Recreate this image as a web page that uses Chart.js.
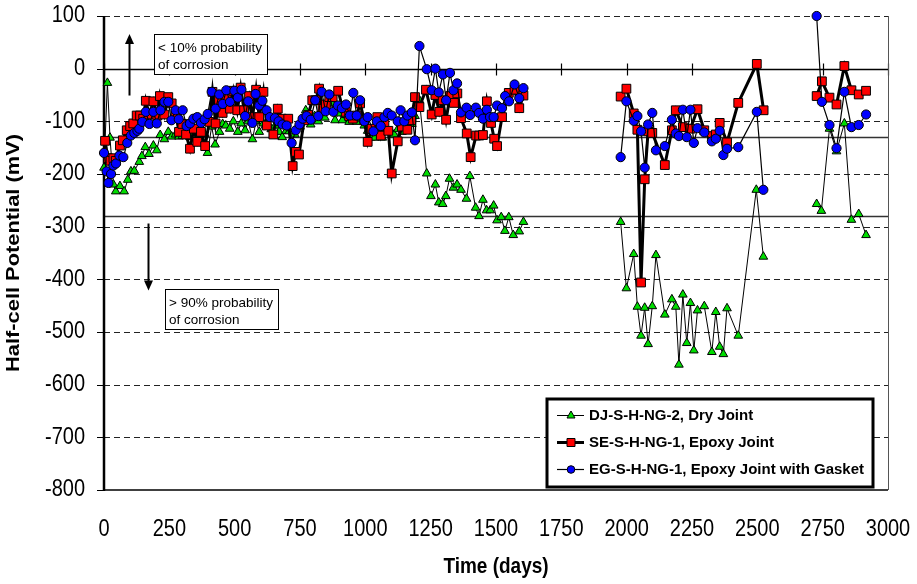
<!DOCTYPE html>
<html><head><meta charset="utf-8">
<script src="https://cdn.jsdelivr.net/npm/chart.js@4/dist/chart.umd.min.js"></script>
<style>html,body{margin:0;padding:0;background:#fff}canvas{display:block}</style>
</head><body>
<canvas id="c" width="917" height="584"></canvas>
<script>
const xTicks = [0,250,500,750,1000,1250,1500,1750,2000,2250,2500,2750,3000];
const yTicks = [100,0,-100,-200,-300,-400,-500,-600,-700,-800];
const thresholds = [-130,-280];
const seriesNames = ['DJ-S-H-NG-2, Dry Joint','SE-S-H-NG-1, Epoxy Joint','EG-S-H-NG-1, Epoxy Joint with Gasket'];
const xTitle = 'Time (days)';
const yTitle = 'Half-cell Potential (mV)';
const noteTop = ['< 10% probability','of corrosion'];
const noteBottom = ['> 90% probability','of corrosion'];

const dryDays = [0,13,23,36,45,61,77,91,103,116,135,145,158,172,189,202,215,231,246,259,274,287,300,314,329,344,357,371,385,396,412,425,442,454,466,481,495,512,525,540,552,568,582,594,610,625,640,655,670,682,697,709,730,750,772,791,806,820,835,845,858,871,884,898,912,925,938,952,967,982,996,1009,1022,1035,1050,1065,1080,1095,1110,1124,1140,1161,1178,1190,1207,1235,1251,1268,1281,1296,1308,1322,1337,1351,1366,1387,1400,1422,1435,1450,1464,1478,1491,1504,1520,1534,1549,1566,1589,1605,1800,1977,1999,2027,2041,2055,2069,2082,2098,2112,2146,2173,2188,2200,2215,2230,2244,2257,2271,2297,2326,2341,2356,2370,2384,2427,2496,2523,2620,2727,2745,2776,2803,2833,2860,2888,2916];
const dryMv = [-188,-27,-131,-220,-233,-223,-233,-211,-195,-194,-177,-166,-149,-162,-146,-155,-126,-134,-120,-129,-125,-129,-128,-126,-130,-122,-128,-118,-124,-160,-110,-144,-120,-105,-108,-114,-100,-120,-104,-117,-100,-134,-100,-120,-104,-110,-115,-108,-120,-130,-118,-119,-125,-110,-79,-106,-90,-100,-88,-93,-80,-66,-98,-85,-98,-88,-101,-92,-101,-95,-108,-118,-131,-131,-120,-131,-118,-120,-125,-115,-120,-110,-105,-90,-60,-199,-242,-220,-254,-257,-242,-209,-226,-220,-230,-247,-204,-264,-280,-249,-269,-269,-260,-288,-282,-308,-282,-316,-309,-291,null,-291,-417,-352,-452,-507,-454,-523,-451,-354,-467,-438,-452,-562,-429,-521,-445,-535,-459,-451,-538,-462,-528,-542,-455,-507,-230,-357,null,-257,-270,-114,-157,-104,-287,-276,-316];

const epoxyDays = [4,15,25,36,45,61,72,87,100,112,125,138,150,160,173,189,204,214,231,246,259,274,287,300,314,329,344,357,371,387,403,415,427,440,454,469,482,495,510,523,536,555,568,582,594,610,623,648,665,680,705,722,734,746,766,781,797,810,823,836,849,862,875,896,912,925,938,952,967,980,996,1009,1024,1046,1059,1073,1088,1101,1124,1140,1161,1175,1190,1207,1232,1254,1268,1283,1296,1309,1324,1339,1352,1366,1388,1403,1424,1436,1450,1465,1481,1493,1504,1523,1549,1571,1589,1605,1800,1977,1999,2027,2041,2055,2069,2082,2098,2146,2173,2188,2215,2244,2271,2297,2326,2341,2356,2384,2427,2498,2524,2620,2727,2747,2776,2803,2833,2860,2888,2916];
const epoxyMv = [-137,-170,-175,-170,-175,-146,-136,-117,-109,-104,-89,-89,-95,-61,-87,-62,-89,-52,-87,-54,-66,-85,-120,-105,-125,-152,-114,-139,-120,-147,-101,-44,-104,-60,-84,-57,-76,-42,-79,-36,-79,-52,-92,-40,-92,-44,-108,-125,-76,-95,-95,-185,-158,-163,-98,-88,-60,-60,-38,-76,-68,-54,-54,-42,-73,-82,-90,-95,-89,-66,-98,-139,-114,-92,-127,-105,-118,-199,-138,-110,-116,-98,-54,-73,-40,-87,-50,-82,-60,-97,-52,-65,-47,-94,-123,-168,-127,-127,-126,-62,-103,-133,-147,-92,-46,-40,-75,-51,null,-53,-38,-85,-116,-406,-210,-119,-122,-183,-117,-79,-111,-114,-77,-117,-128,-125,-103,-140,-65,9,-79,null,-52,-24,-55,-68,5,-41,-49,-42];

const gasketDays = [0,10,17,27,36,46,59,74,89,103,116,128,135,147,160,174,189,202,216,231,246,258,274,286,301,316,329,342,357,371,385,397,412,427,441,454,468,482,499,512,526,540,552,568,580,594,606,622,635,654,668,683,699,718,734,748,760,775,791,808,820,833,848,862,878,895,910,926,941,954,967,980,996,1009,1031,1044,1059,1073,1086,1101,1124,1135,1149,1161,1178,1190,1207,1235,1254,1268,1281,1297,1309,1324,1337,1351,1366,1387,1401,1423,1435,1450,1465,1477,1491,1504,1523,1535,1550,1571,1589,1605,1800,1977,1999,2027,2041,2055,2069,2082,2098,2112,2146,2173,2188,2200,2215,2230,2244,2257,2271,2297,2326,2341,2356,2370,2384,2427,2498,2523,2620,2727,2747,2776,2803,2833,2860,2888,2916];
const gasketMv = [-160,-195,-217,-200,-184,-180,-165,-168,-141,-127,-122,-118,-114,-101,-82,-105,-82,-104,-79,-63,-63,-98,-79,-96,-79,-109,-104,-95,-92,-103,-96,-86,-44,-76,-49,-67,-41,-63,-42,-55,-40,-90,-62,-103,-48,-70,-61,-79,-92,-94,-100,-106,-108,-141,-117,-106,-95,-90,-97,-60,-90,-44,-81,-49,-82,-70,-75,-68,-89,-46,-89,-60,-100,-92,-119,-100,-109,-92,-84,-89,-100,-79,-100,-89,-83,-136,43,-1,-41,0,-45,-11,-60,-8,-41,-28,-83,-74,-88,-74,-84,-95,-78,-92,-92,-70,-75,-52,-62,-30,-56,-37,null,-168,-62,-99,-90,-119,-188,-106,-84,-155,-147,-97,-123,-128,-78,-130,-78,-141,-113,-121,-138,-133,-118,-164,-152,-149,-82,-230,null,100,-63,-107,-151,-44,-111,-107,-87];

const pts = (d, v) => d.map((x, i) => ({x, y: v[i]}));
const FONT = "'Liberation Sans', Arial, sans-serif";
const STRETCH = 1.15;

const overlay = {
  id: 'overlay',
  beforeDatasetsDraw(chart) {
    const {ctx, chartArea: a, scales: {x, y}} = chart;
    const seg = (x1, y1, x2, y2) => { ctx.beginPath(); ctx.moveTo(x1, y1); ctx.lineTo(x2, y2); ctx.stroke(); };
    const py = v => Math.round(y.getPixelForValue(v)) + 0.5;
    ctx.save();
    ctx.strokeStyle = '#222'; ctx.lineWidth = 1; ctx.setLineDash([6, 4]);
    yTicks.forEach(v => { if (v !== 0 && v !== yTicks[yTicks.length - 1]) seg(a.left, py(v), a.right, py(v)); });
    ctx.setLineDash([]);
    ctx.strokeStyle = '#333'; ctx.lineWidth = 1.5;
    thresholds.forEach(v => seg(a.left, py(v), a.right, py(v)));
    ctx.strokeStyle = '#000'; ctx.lineWidth = 1.5;
    const y0 = py(0);
    seg(a.left, y0, a.right, y0);
    ctx.lineWidth = 1.2;
    xTicks.forEach(v => { const px = Math.round(x.getPixelForValue(v)) + 0.5; seg(px, y0 - 6, px, y0 + 6); });
    ctx.lineWidth = 1;
    yTicks.forEach(v => seg(a.left - 7, py(v), a.left, py(v)));
    ctx.strokeStyle = '#000'; ctx.lineWidth = 1.5;
    seg(a.left, a.bottom, a.right, a.bottom);
    ctx.strokeStyle = '#555'; ctx.lineWidth = 1;
    seg(a.right + 0.5, a.top, a.right + 0.5, a.bottom);
    ctx.strokeStyle = '#000'; ctx.lineWidth = 2.5;
    seg(a.left, a.top, a.left, a.bottom + 1);
    const arrow = (dx, fromV, toV) => {
      const ax = Math.round(x.getPixelForValue(dx)) + 0.5;
      const y1 = y.getPixelForValue(fromV), y2 = y.getPixelForValue(toV);
      const dir = Math.sign(y2 - y1);
      ctx.strokeStyle = '#000'; ctx.fillStyle = '#000'; ctx.lineWidth = 2;
      seg(ax, y1, ax, y2 - dir * 8);
      ctx.beginPath(); ctx.moveTo(ax, y2); ctx.lineTo(ax - 4.5, y2 - dir * 10); ctx.lineTo(ax + 4.5, y2 - dir * 10); ctx.closePath(); ctx.fill();
    };
    arrow(96, -51, 66);
    arrow(168, -294, -421);
    const note = (dx, dv, lines) => {
      const bx = Math.round(x.getPixelForValue(dx)) + 0.5, by = Math.round(y.getPixelForValue(dv)) + 0.5;
      ctx.fillStyle = '#fff'; ctx.fillRect(bx, by, 113, 40);
      ctx.strokeStyle = '#000'; ctx.lineWidth = 1; ctx.strokeRect(bx, by, 113, 40);
      ctx.fillStyle = '#000'; ctx.font = '13.5px ' + FONT; ctx.textBaseline = 'middle'; ctx.textAlign = 'left';
      lines.forEach((t, i) => ctx.fillText(t, bx + 3.5, by + 13.5 + i * 17.3));
    };
    note(192, 66, noteTop);
    note(234, -419, noteBottom);
    ctx.restore();
  },
  afterDatasetsDraw(chart) {
    const {ctx, chartArea: a, scales: {x, y}} = chart;
    ctx.save();
    // legend
    const L = a.right - 341, T = a.bottom - 91, W = 326, H = 88;
    ctx.fillStyle = '#fff'; ctx.fillRect(L, T, W, H);
    ctx.strokeStyle = '#000'; ctx.lineWidth = 3; ctx.strokeRect(L, T, W, H);
    chart.data.datasets.forEach((d, i) => {
      const cy = T + 16.5 + i * 27;
      ctx.strokeStyle = '#000'; ctx.lineWidth = d.borderWidth;
      ctx.beginPath(); ctx.moveTo(L + 10, cy); ctx.lineTo(L + 37, cy); ctx.stroke();
      const mx = L + 24;
      ctx.fillStyle = d.pointBackgroundColor; ctx.lineWidth = 1; ctx.strokeStyle = '#000';
      ctx.beginPath();
      if (d.pointStyle === 'triangle') { ctx.moveTo(mx, cy - 4.5); ctx.lineTo(mx + 4, cy + 2.5); ctx.lineTo(mx - 4, cy + 2.5); ctx.closePath(); }
      else if (d.pointStyle === 'rect') { ctx.rect(mx - 4, cy - 4, 8, 8); }
      else { ctx.arc(mx, cy, 3.8, 0, Math.PI * 2); }
      ctx.fill(); ctx.stroke();
      ctx.fillStyle = '#000'; ctx.font = 'bold 15px ' + FONT; ctx.textBaseline = 'middle'; ctx.textAlign = 'left';
      ctx.fillText(seriesNames[i], L + 42, cy + 0.5);
    });
    // axis labels (stretched like the source image)
    ctx.fillStyle = '#000'; ctx.textBaseline = 'middle';
    ctx.font = '20px ' + FONT; ctx.textAlign = 'center';
    xTicks.forEach(v => { ctx.save(); ctx.translate(x.getPixelForValue(v), a.bottom + 40); ctx.scale(1, STRETCH); ctx.fillText(String(v), 0, 0); ctx.restore(); });
    ctx.textAlign = 'right';
    yTicks.forEach(v => { ctx.save(); ctx.translate(a.left - 19, y.getPixelForValue(v)); ctx.scale(1, STRETCH); ctx.fillText(String(v), 0, 0); ctx.restore(); });
    ctx.font = 'bold 19px ' + FONT; ctx.textAlign = 'center';
    ctx.save(); ctx.translate((a.left + a.right) / 2, 567); ctx.scale(1, STRETCH); ctx.fillText(xTitle, 0, 0); ctx.restore();
    ctx.save(); ctx.translate(14, (a.top + a.bottom) / 2); ctx.rotate(-Math.PI / 2); ctx.scale(STRETCH, 1); ctx.fillText(yTitle, 0, 0); ctx.restore();
    ctx.restore();
  }
};

new Chart(document.getElementById('c'), {
  type: 'line',
  data: {
    datasets: [
      {label: seriesNames[0], data: pts(dryDays, dryMv), borderColor: '#000', borderWidth: 1, pointStyle: 'triangle', pointRadius: 5, pointBackgroundColor: '#00dd00', pointBorderColor: '#000', pointBorderWidth: 1, order: 3, clip: false, spanGaps: false, tension: 0},
      {label: seriesNames[1], data: pts(epoxyDays, epoxyMv), borderColor: '#000', borderWidth: 3, pointStyle: 'rect', pointRadius: 6.2, pointBackgroundColor: '#ff0000', pointBorderColor: '#000', pointBorderWidth: 1, order: 2, clip: false, spanGaps: false, tension: 0},
      {label: seriesNames[2], data: pts(gasketDays, gasketMv), borderColor: '#000', borderWidth: 1.2, pointStyle: 'circle', pointRadius: 4.6, pointBackgroundColor: '#0000ff', pointBorderColor: '#000', pointBorderWidth: 1, order: 1, clip: false, spanGaps: false, tension: 0}
    ]
  },
  options: {
    responsive: false, animation: false, devicePixelRatio: 1,
    layout: {padding: {top: 16, right: 29, left: 0, bottom: 0}},
    plugins: {legend: {display: false}, tooltip: {enabled: false}},
    scales: {
      x: {
        type: 'linear', min: 0, max: 3000,
        afterBuildTicks: s => { s.ticks = xTicks.map(v => ({value: v})); },
        afterFit: s => { s.height = 94; },
        grid: {display: false, drawTicks: false}, border: {display: false},
        ticks: {display: false}
      },
      y: {
        type: 'linear', min: -800, max: 100,
        afterBuildTicks: s => { s.ticks = yTicks.map(v => ({value: v})); },
        afterFit: s => { s.width = 104; },
        grid: {display: false, drawTicks: false}, border: {display: false},
        ticks: {display: false}
      }
    }
  },
  plugins: [overlay]
});
</script>
</body></html>
